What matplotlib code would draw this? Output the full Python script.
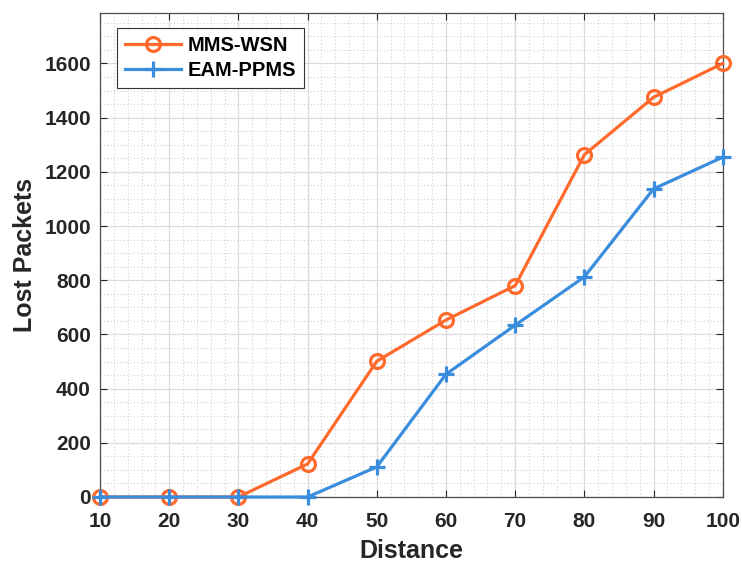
import numpy as np
import matplotlib.pyplot as plt
from matplotlib.ticker import MultipleLocator

distance = [10, 20, 30, 40, 50, 60, 70, 80, 90, 100]
mms_wsn = [0, 0, 0, 122, 501, 653, 780, 1263, 1475, 1600]
eam_ppms = [0, 0, 0, 0, 111, 453, 634, 812, 1137, 1254]

plt.rcParams['font.family'] = ['Liberation Sans', 'DejaVu Sans']
plt.rcParams['font.weight'] = 'bold'

fig = plt.figure(figsize=(7.42, 5.64), dpi=100)
ax = fig.add_axes([0.1348, 0.1188, 0.8392, 0.8576])

orange = '#FF6A2C'
blue = '#3A8CDC'
ax.plot(distance, mms_wsn, color=orange, lw=2.3, marker='o', ms=10,
        mfc='none', mew=2.3, label='MMS-WSN', clip_on=False, zorder=3)
ax.plot(distance, eam_ppms, color=blue, lw=2.3, marker='+', ms=11,
        mew=2.3, label='EAM-PPMS', clip_on=False, zorder=4)

ax.set_xlim(10, 100)
ax.set_ylim(0, 1785)
ax.set_xticks(distance)
ax.set_yticks(np.arange(0, 1601, 200))
ax.xaxis.set_minor_locator(MultipleLocator(2))
ax.yaxis.set_minor_locator(MultipleLocator(50))
ax.grid(which='major', color='#dcdcdc', lw=0.9)
ax.grid(which='minor', color='#d0d0d0', lw=0.8, ls=(0, (1, 2)))
ax.set_axisbelow(True)

ax.tick_params(which='major', direction='in', length=5, top=True, right=True,
               labelsize=15, colors='#262626', width=0.8)
ax.tick_params(axis='x', which='major', pad=11)
ax.tick_params(axis='y', which='major', pad=6.5)
ax.tick_params(which='minor', length=0)
for lab in ax.get_xticklabels() + ax.get_yticklabels():
    lab.set_fontweight('bold')
for s in ax.spines.values():
    s.set_color('#4d4d4d')
    s.set_linewidth(0.9)

ax.set_xlabel('Distance', fontsize=18, fontweight='bold', color='#262626', labelpad=5.5)
ax.set_ylabel('Lost Packets', fontsize=18, fontweight='bold', color='#262626', labelpad=5)

leg = ax.legend(loc='upper left', bbox_to_anchor=(0.027, 0.969), borderaxespad=0,
                fontsize=14.5, fancybox=False, edgecolor='#333333', framealpha=1,
                handlelength=2.8, borderpad=0.4, labelspacing=0.3, handletextpad=0.3)
leg.get_frame().set_linewidth(0.8)
for t in leg.get_texts():
    t.set_fontweight('bold')

fig.savefig('out.png', dpi=100)
